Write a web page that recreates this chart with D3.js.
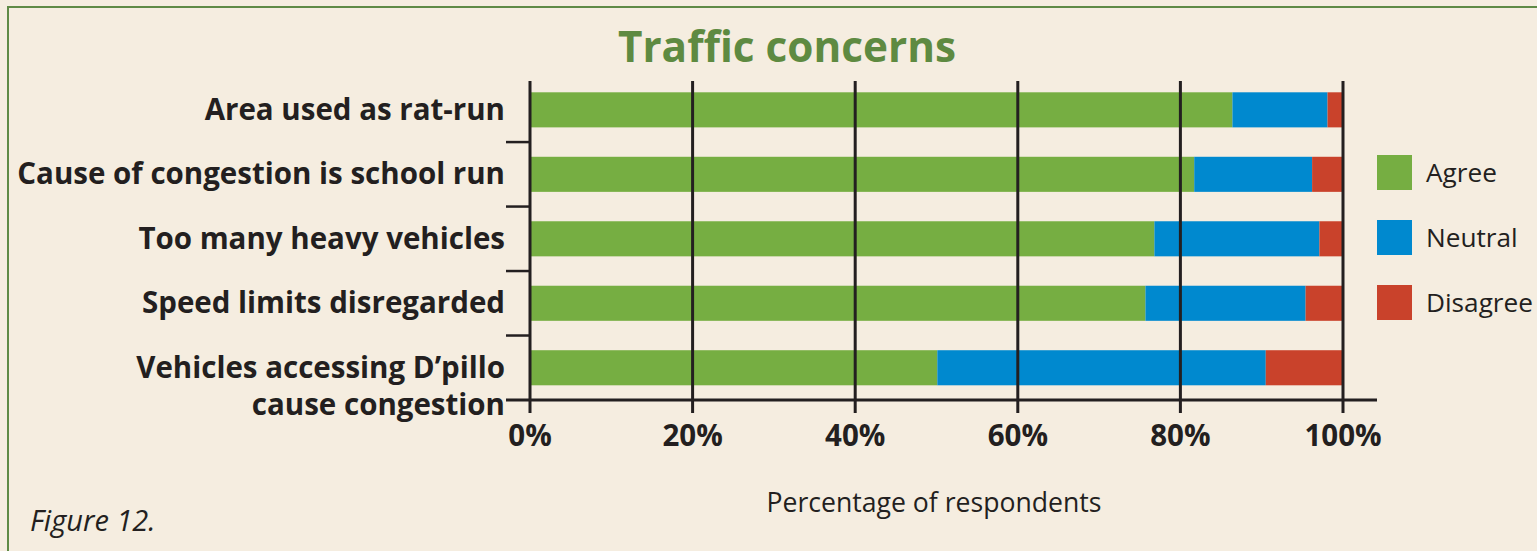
<!DOCTYPE html>
<html>
<head>
<meta charset="utf-8">
<script src="https://cdn.jsdelivr.net/npm/d3@7"></script>
<style>
  body { margin: 0; background: #f5ede0; }
  text { font-family: "Open Sans", sans-serif; fill: #231f20; }
</style>
</head>
<body>
<svg id="grafico"></svg>
<script>
var categorias = [
  'Area used as rat-run',
  'Cause of congestion is school run',
  'Too many heavy vehicles',
  'Speed limits disregarded',
  'Vehicles accessing D\u2019pillo|cause congestion'
];
var concordam = [86.4, 81.7, 76.8, 75.7, 50.1];
var neutros = [11.7, 14.5, 20.3, 19.7, 40.4];
var discordam = [1.9, 3.8, 2.9, 4.6, 9.5];
var series = ['Agree', 'Neutral', 'Disagree'];
var cores = ['#76ae42', '#0089cf', '#c9422b'];
var marcas = [0, 20, 40, 60, 80, 100];

var largura = 1537, altura = 551;
var svg = d3.select('#grafico').attr('width', largura).attr('height', altura);

svg.append('rect').attr('width', largura).attr('height', altura).attr('fill', '#f5ede0');
// borda verde (so topo e esquerda visiveis)
svg.append('rect')
   .attr('x', 8).attr('y', 7)
   .attr('width', largura + 20).attr('height', altura + 20)
   .attr('fill', 'none').attr('stroke', '#5f8a46').attr('stroke-width', 2);

var x = d3.scaleLinear().domain([0, 100]).range([530, 1343]);
var y = d3.scaleBand().domain(categorias).range([77.6, 400]).paddingInner(0.456).paddingOuter(0.228);

var linhas = categorias.map(function(c, i) {
  return { cat: c, valores: [concordam[i], neutros[i], discordam[i]] };
});

var empilhado = [];
linhas.forEach(function(l) {
  var acum = 0;
  l.valores.forEach(function(v, j) {
    empilhado.push({ cat: l.cat, x0: acum, x1: acum + v, serie: j });
    acum += v;
  });
});

svg.selectAll('.barra')
  .data(empilhado)
  .enter()
    .append('rect')
    .classed('barra', true)
    .attr('x', d => x(d.x0))
    .attr('y', d => y(d.cat))
    .attr('width', d => x(d.x1) - x(d.x0))
    .attr('height', y.bandwidth())
    .attr('fill', d => cores[d.serie]);

var cor = '#231f20';
// linhas de grade verticais
svg.selectAll('.grade')
  .data(marcas)
  .enter()
    .append('line')
    .attr('x1', d => x(d)).attr('x2', d => x(d))
    .attr('y1', 81).attr('y2', 413)
    .attr('stroke', cor).attr('stroke-width', 3);

// eixo x
svg.append('line')
   .attr('x1', 506).attr('x2', 1377)
   .attr('y1', 400).attr('y2', 400)
   .attr('stroke', cor).attr('stroke-width', 3);

// marcas do eixo y entre categorias
var passo = y.step();
svg.selectAll('.marcaY')
  .data(categorias.slice(1))
  .enter()
    .append('line')
    .attr('x1', 506).attr('x2', 530)
    .attr('y1', d => y(d) - passo * y.paddingInner() / 2)
    .attr('y2', d => y(d) - passo * y.paddingInner() / 2)
    .attr('stroke', cor).attr('stroke-width', 2.5);

svg.selectAll('.rotuloX')
  .data(marcas)
  .enter()
    .append('text')
    .attr('x', d => x(d))
    .attr('y', 446)
    .attr('text-anchor', 'middle')
    .style('font-size', '29.5px').style('font-weight', 'bold')
    .text(d => d + '%');

// rotulos das categorias
svg.selectAll('.rotuloY')
  .data(categorias)
  .enter()
    .append('text')
    .attr('text-anchor', 'end')
    .style('font-size', '29.5px').style('font-weight', 'bold')
    .each(function(d) {
      var partes = d.split('|');
      var centro = y(d) + y.bandwidth() / 2;
      var t = d3.select(this);
      partes.forEach(function(p, i) {
        t.append('tspan')
         .attr('x', 505)
         .attr('y', centro + 10 + i * 37)
         .text(p);
      });
    });

// titulo
svg.append('text')
   .attr('x', 787).attr('y', 62)
   .attr('text-anchor', 'middle')
   .style('font-size', '42.3px').style('font-weight', 'bold')
   .style('fill', '#5e8a41')
   .text('Traffic concerns');

svg.append('text')
   .attr('x', 934).attr('y', 512)
   .attr('text-anchor', 'middle')
   .style('font-size', '26.6px')
   .text('Percentage of respondents');

svg.append('text')
   .attr('x', 30).attr('y', 531)
   .style('font-size', '29px').style('font-style', 'italic')
   .text('Figure 12.');

// legenda
var legenda = svg.selectAll('.legenda')
  .data(series)
  .enter()
    .append('g')
    .attr('transform', (d, i) => 'translate(1377,' + (155 + i * 65) + ')');
legenda.append('rect')
  .attr('width', 35).attr('height', 35)
  .attr('fill', (d, i) => cores[i]);
legenda.append('text')
  .attr('x', 49).attr('y', 27)
  .style('font-size', '26.2px')
  .text(d => d);
</script>
</body>
</html>
